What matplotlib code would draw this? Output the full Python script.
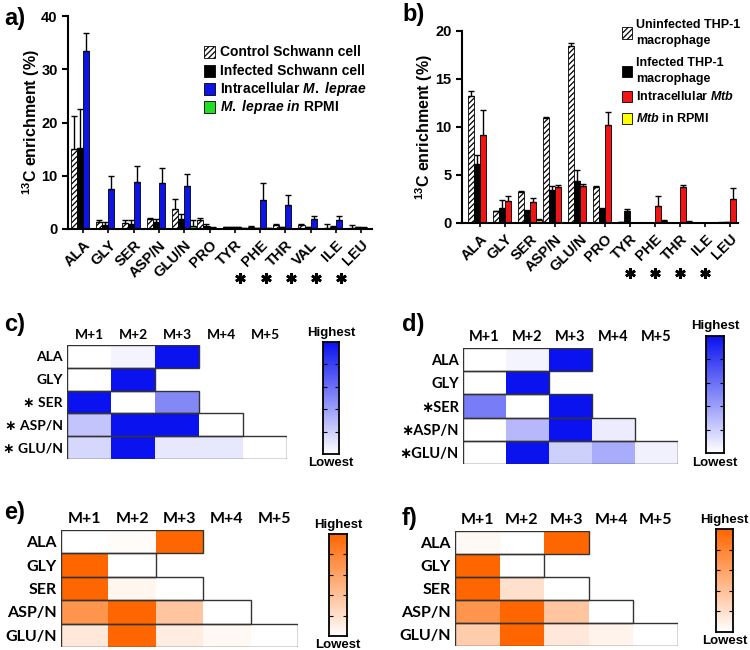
import numpy as np
import matplotlib
matplotlib.use('Agg')
import matplotlib.pyplot as plt
from matplotlib.colors import LinearSegmentedColormap
from matplotlib.patches import Rectangle
import matplotlib.transforms as mtrans

plt.rcParams['font.family'] = ['Liberation Sans', 'DejaVu Sans']
plt.rcParams['font.weight'] = 'bold'
plt.rcParams['mathtext.fontset'] = 'custom'
plt.rcParams['mathtext.rm'] = 'Liberation Sans:bold'
plt.rcParams['mathtext.it'] = 'Liberation Sans:italic:bold'
plt.rcParams['mathtext.bf'] = 'Liberation Sans:bold'
plt.rcParams['hatch.linewidth'] = 0.9

# ---------------- data: panel a ----------------
cats_a = ['ALA', 'GLY', 'SER', 'ASP/N', 'GLU/N', 'PRO', 'TYR', 'PHE', 'THR', 'VAL', 'ILE', 'LEU']
ctrl_a = [15.0, 1.3, 1.1, 1.8, 3.8, 1.7, 0.3, 0.4, 0.7, 0.8, 0.1, 0.1]
ctrl_a_err = [6.2, 0.3, 0.5, 0.3, 1.9, 0.3, 0.1, 0.1, 0.2, 0.2, 0.9, 0.7]
inf_a = [15.2, 0.8, 1.0, 1.3, 1.8, 0.5, 0.3, 0.1, 0.3, 0.3, 0.4, 0.3]
inf_a_err = [7.3, 0.5, 0.6, 0.6, 1.0, 0.4, 0.1, 0.1, 0.1, 0.1, 0.2, 0.1]
intra_a = [33.4, 7.5, 8.8, 8.6, 8.1, 0.2, 0.3, 5.4, 4.6, 1.8, 1.6, 0.2]
intra_a_err = [3.5, 2.5, 3.0, 2.9, 2.3, 0.1, 0.1, 3.3, 1.8, 0.7, 0.9, 0.1]
rpmi_a = [0.0, 0.0, 0.0, 0.0, 0.6, 0.0, 0.2, 0.2, 0.0, 0.0, 0.0, 0.0]
rpmi_a_err = [0.0, 0.0, 0.0, 0.0, 1.0, 0.0, 0.0, 0.0, 0.0, 0.0, 0.0, 0.0]
star_a = ['PHE', 'THR', 'VAL', 'ILE', 'LEU']
yticks_a = [0, 10, 20, 30, 40]
legend_a = ['Control Schwann cell', 'Infected Schwann cell',
            r'Intracellular $\mathit{M.\ leprae}$', r'$\mathit{M.\ leprae\ in}$ RPMI']

# ---------------- data: panel b ----------------
cats_b = ['ALA', 'GLY', 'SER', 'ASP/N', 'GLU/N', 'PRO', 'TYR', 'PHE', 'THR', 'ILE', 'LEU']
unif_b = [13.2, 1.2, 3.2, 10.9, 18.4, 3.7, 0.1, 0.0, 0.0, 0.0, 0.05]
unif_b_err = [0.5, 0.1, 0.1, 0.15, 0.3, 0.15, 0.05, 0.0, 0.0, 0.0, 0.05]
inf_b = [6.1, 1.6, 1.3, 3.4, 4.4, 1.5, 1.2, 0.0, 0.0, 0.05, 0.1]
inf_b_err = [1.0, 0.8, 0.1, 0.5, 1.1, 0.05, 0.3, 0.0, 0.0, 0.0, 0.05]
intra_b = [9.2, 2.3, 2.2, 3.7, 3.9, 10.2, 0.0, 1.8, 3.7, 0.0, 2.5]
intra_b_err = [2.6, 0.5, 0.4, 0.3, 0.2, 1.4, 0.0, 1.0, 0.3, 0.0, 1.1]
rpmi_b = [0.0, 0.0, 0.3, 0.05, 0.0, 0.0, 0.0, 0.2, 0.15, 0.0, 0.0]
rpmi_b_err = [0.0, 0.0, 0.1, 0.0, 0.0, 0.0, 0.0, 0.1, 0.05, 0.0, 0.0]
star_b = ['TYR', 'PHE', 'THR', 'ILE']
yticks_b = [0, 5, 10, 15, 20]
legend_b = ['Uninfected THP-1\nmacrophage', 'Infected THP-1\nmacrophage',
            r'Intracellular $\mathit{Mtb}$', r'$\mathit{Mtb}$ in RPMI']

# ---------------- data: heatmaps ----------------
iso_labels = ['M+1', 'M+2', 'M+3', 'M+4', 'M+5']
aa_rows = ['ALA', 'GLY', 'SER', 'ASP/N', 'GLU/N']
heat_c = [[0.0, 0.05, 1.0],
          [0.0, 1.0],
          [1.0, 0.0, 0.5],
          [0.25, 1.0, 1.0, 0.0],
          [0.17, 1.0, 0.1, 0.1, 0.0]]
heat_d = [[0.0, 0.05, 1.0],
          [0.0, 1.0],
          [0.55, 0.0, 1.0],
          [0.0, 0.3, 1.0, 0.08],
          [0.0, 1.0, 0.2, 0.35, 0.06]]
heat_e = [[0.0, 0.02, 1.0],
          [1.0, 0.0],
          [1.0, 0.06, 0.0],
          [0.7, 1.0, 0.38, 0.0],
          [0.15, 1.0, 0.12, 0.05, 0.0]]
heat_f = [[0.04, 0.0, 1.0],
          [1.0, 0.0],
          [1.0, 0.2, 0.0],
          [0.7, 1.0, 0.38, 0.0],
          [0.33, 1.0, 0.15, 0.08, 0.0]]
star_rows_cd = ['SER', 'ASP/N', 'GLU/N']

W, H = 750, 650
fig = plt.figure(figsize=(W / 100, H / 100), dpi=100)


def rect(x0, y0, x1, y1):
    return [x0 / W, 1 - y1 / H, (x1 - x0) / W, (y1 - y0) / H]


def bar_panel(r, cats, series, errs, colors, hatches, xlim, ylim, yticks, stars,
              star_off, star_y, labelpad):
    ax = fig.add_axes(r)
    x = np.arange(len(cats))
    w = 0.24
    offs = [-1.5, -0.5, 0.5, 1.5]
    for s, e, c, h, o in zip(series, errs, colors, hatches, offs):
        ax.bar(x + o * w, s, width=w, color=c, hatch=h, edgecolor='black',
               linewidth=0.6, zorder=2)
        ee = np.array(e)
        ax.errorbar(x + o * w, s, yerr=[np.zeros(len(ee)), ee], fmt='none',
                    ecolor='black', elinewidth=1, capsize=2, capthick=1, zorder=3)
    ax.set_xlim(*xlim)
    ax.set_ylim(*ylim)
    ax.set_yticks(yticks)
    ax.set_xticks(x)
    ax.set_xticklabels(cats, rotation=45, ha='right', rotation_mode='anchor',
                       fontsize=10.5, fontweight='bold')
    ax.tick_params(axis='y', labelsize=10.5, width=1.5, length=4)
    ax.tick_params(axis='x', width=1.2, length=3)
    for sp in ['top', 'right']:
        ax.spines[sp].set_visible(False)
    for sp in ['left', 'bottom']:
        ax.spines[sp].set_linewidth(1.5)
    ax.set_ylabel(r'$^{13}$C enrichment (%)', fontsize=11.5, fontweight='bold',
                  labelpad=labelpad)
    trans = mtrans.blended_transform_factory(ax.transData, ax.transAxes)
    sx = [cats.index(s) + star_off for s in stars]
    ax.plot(sx, [star_y] * len(sx), linestyle='none', marker=(6, 2, 0),
            markersize=7.5, markeredgewidth=1.9, color='black', transform=trans,
            clip_on=False)
    return ax


def manual_legend(labels, colors, hatches, hx, hw, hh, tx, ys, fs, ls):
    for lab, c, h, y in zip(labels, colors, hatches, ys):
        fig.patches.append(Rectangle((hx / W, 1 - (y + hh / 2) / H), hw / W, hh / H,
                                     facecolor=c, edgecolor='black', hatch=h, lw=0.6,
                                     transform=fig.transFigure, figure=fig))
        fig.text(tx / W, 1 - y / H, lab, ha='left', va='center', fontsize=fs,
                 fontweight='bold', linespacing=ls)


colors_a = ['white', 'black', '#0D14E6', '#22DD22']
colors_b = ['white', 'black', '#F01414', '#FFFF00']
hatches = ['//////', None, None, None]

# panel a
ax_a = bar_panel(rect(68, 16, 372, 229), cats_a,
                 [ctrl_a, inf_a, intra_a, rpmi_a],
                 [ctrl_a_err, inf_a_err, intra_a_err, rpmi_a_err],
                 colors_a, hatches,
                 (-0.6, 11.43), (0, 40), yticks_a, star_a, -0.78, -0.23, -1)
manual_legend(legend_a, colors_a, hatches, 204, 11, 12, 220, [52, 71, 89, 107], 10, 1.2)

# panel b
ax_b = bar_panel(rect(462, 31, 738, 223), cats_b,
                 [unif_b, inf_b, intra_b, rpmi_b],
                 [unif_b_err, inf_b_err, intra_b_err, rpmi_b_err],
                 colors_b, hatches,
                 (-0.72, 10.32), (0, 20), yticks_b, star_b, 0.0, -0.26, 0)
manual_legend(legend_b, colors_b, hatches, 622, 10, 11, 636, [33, 71, 96, 118], 9, 1.35)


def heat_panel(r, cbr, data, color, fs, stars, star_space):
    ax = fig.add_axes(r)
    cmap = LinearSegmentedColormap.from_list('c', ['white', color])
    nr, nc = len(aa_rows), len(iso_labels)
    arr = np.full((nr, nc), np.nan)
    for i, row in enumerate(data):
        arr[i, :len(row)] = row
    m = np.ma.masked_invalid(arr)
    ax.pcolormesh(np.arange(nc + 1), np.arange(nr + 1), m, cmap=cmap, vmin=0, vmax=1)
    for i, row in enumerate(data):
        ax.add_patch(Rectangle((0, i), len(row), 1, fill=False, edgecolor='#333333',
                               lw=1.0, zorder=3))
    ax.set_xlim(0, nc)
    ax.set_ylim(nr, 0)
    for sp in ax.spines.values():
        sp.set_visible(False)
    ax.xaxis.tick_top()
    ax.set_xticks(np.arange(nc) + 0.5)
    ax.set_xticklabels(iso_labels)
    ax.set_yticks(np.arange(nr) + 0.5)
    labs = []
    for a in aa_rows:
        if a in stars:
            labs.append('\u2217' + star_space + a)
        else:
            labs.append(a)
    ax.set_yticklabels(labs)
    ax.tick_params(length=0, pad=3)
    for t in ax.get_xticklabels() + ax.get_yticklabels():
        t.set_fontfamily(['Lato', 'DejaVu Sans'])
        t.set_fontweight('bold')
        t.set_fontsize(fs)
    cax = fig.add_axes(cbr)
    grad = np.linspace(0, 1, 256).reshape(-1, 1)
    cax.imshow(grad, cmap=cmap, aspect='auto', origin='lower', extent=[0, 1, 0, 1])
    cax.set_xticks([])
    cax.set_yticks([0.2, 0.4, 0.6, 0.8])
    cax.set_yticklabels([])
    cax.tick_params(axis='y', direction='in', left=True, right=True, length=3, width=0.8)
    for sp in cax.spines.values():
        sp.set_linewidth(1.3)
    cax.text(0.5, 1.03, 'Highest', transform=cax.transAxes, ha='center', va='bottom',
             fontsize=9.5, fontweight='bold')
    cax.text(0.5, -0.03, 'Lowest', transform=cax.transAxes, ha='center', va='top',
             fontsize=9.5, fontweight='bold')
    return ax


blue = '#0A12F0'
orange = '#FF6600'
heat_panel(rect(67, 345, 287, 459), rect(323, 342, 339, 454), heat_c, blue, 10,
           star_rows_cd, ' ')
heat_panel(rect(463, 348, 678, 464), rect(706, 336, 724, 453), heat_d, blue, 10.5,
           star_rows_cd, '')
heat_panel(rect(61, 530, 298, 647), rect(329, 534, 347, 636), heat_e, orange, 11.5,
           [], '')
heat_panel(rect(455, 531, 678, 646), rect(716, 529, 733, 632), heat_f, orange, 11.5,
           [], '')

# panel letters
for lab, (px, py) in {'a)': (4, 19), 'b)': (402, 15), 'c)': (4, 324),
                      'd)': (402, 325), 'e)': (4, 512), 'f)': (402, 518)}.items():
    fig.text(px / W, 1 - py / H, lab, fontsize=17, fontweight='bold', ha='left', va='center')

fig.savefig('out.png', dpi=100)
